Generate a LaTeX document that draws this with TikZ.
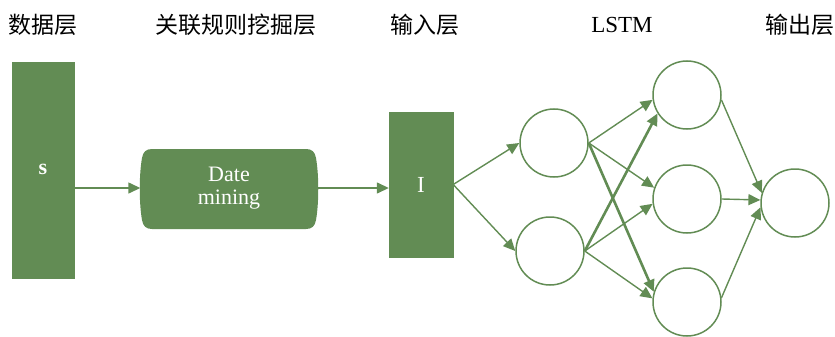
\documentclass[tikz,border=0pt]{standalone}
\usepackage{fontspec}
\setmainfont{Liberation Serif}
\newfontfamily\cjk{Noto Sans CJK SC}
\usetikzlibrary{arrows.meta}
\definecolor{leaf}{RGB}{98,140,84}
\begin{document}
\begin{tikzpicture}[x=1pt,y=-1pt,
  title/.style={font=\fontsize{23}{26}\selectfont, anchor=center, inner sep=0},
  bar/.style={draw=leaf, fill=leaf, inner sep=0, text=white},
  neuron/.style={circle, draw=leaf, line width=1.5pt, minimum size=68pt, inner sep=0},
  link/.style={draw=leaf, line width=1.4pt, -{Triangle[length=12pt,width=11pt]}},
  boldlink/.style={link, line width=2.6pt}]
\useasboundingbox (0,0) rectangle (835,337);
% titles
\node[title] (t1) at (43,25) {\cjk 数据层};
\node[title] (t2) at (236,25) {\cjk 关联规则挖掘层};
\node[title] (t3) at (425,25) {\cjk 输入层};
\node[title] (t4) at (622,25) {LSTM};
\node[title] (t5) at (800,25) {\cjk 输出层};
% blocks
\node[bar, minimum width=62pt, minimum height=216pt, font=\fontsize{22}{24}\selectfont\bfseries] (data) at (43,170) {\raisebox{2pt}{s}};
\fill[leaf] (152,149) -- (306,149) .. controls (312,149) and (315,152) .. (316,158)
  .. controls (319,175) and (319,203) .. (316,220)
  .. controls (315,226) and (312,229) .. (306,229) -- (152,229)
  .. controls (146,229) and (143,226) .. (142,220)
  .. controls (139,203) and (139,175) .. (142,158)
  .. controls (143,152) and (146,149) .. (152,149) -- cycle;
\node[inner sep=0, minimum width=177pt, minimum height=80pt, align=center, text=white, font=\fontsize{22}{23}\selectfont] (mine) at (229,188) {Date\\mining};
\node[bar, minimum width=64pt, minimum height=145pt, font=\fontsize{23}{24}\selectfont] (inp) at (421,184.5) {I};
% neurons
\node[neuron] (h1) at (554,143) {};
\node[neuron] (h2) at (550,251) {};
\node[neuron] (l1) at (687,95) {};
\node[neuron] (l2) at (687,199) {};
\node[neuron] (l3) at (687,302) {};
\node[neuron] (out) at (795,203) {};
% connectors
\draw[link] (data.east |- 0,188) -- (mine.west |- 0,188);
\draw[link] (mine.east |- 0,188) -- (inp.west |- 0,188);
\draw[link] (inp.east) -- (h1.west);
\draw[link] (inp.east) -- (h2.west);
\draw[link] (h1.east) -- (l1.188);
\draw[link] (h1.east) -- (l2.161);
\draw[boldlink] (h1.east) -- (l3.163);
\draw[boldlink] (h2.east) -- (l1.212);
\draw[link] (h2.east) -- (l2.188);
\draw[link] (h2.east) -- (l3.174);
\draw[link] (l1.-8) -- (out.163);
\draw[link] (l2.east) -- (out.175);
\draw[link] (l3.7) -- (out.187);
\end{tikzpicture}
\end{document}
